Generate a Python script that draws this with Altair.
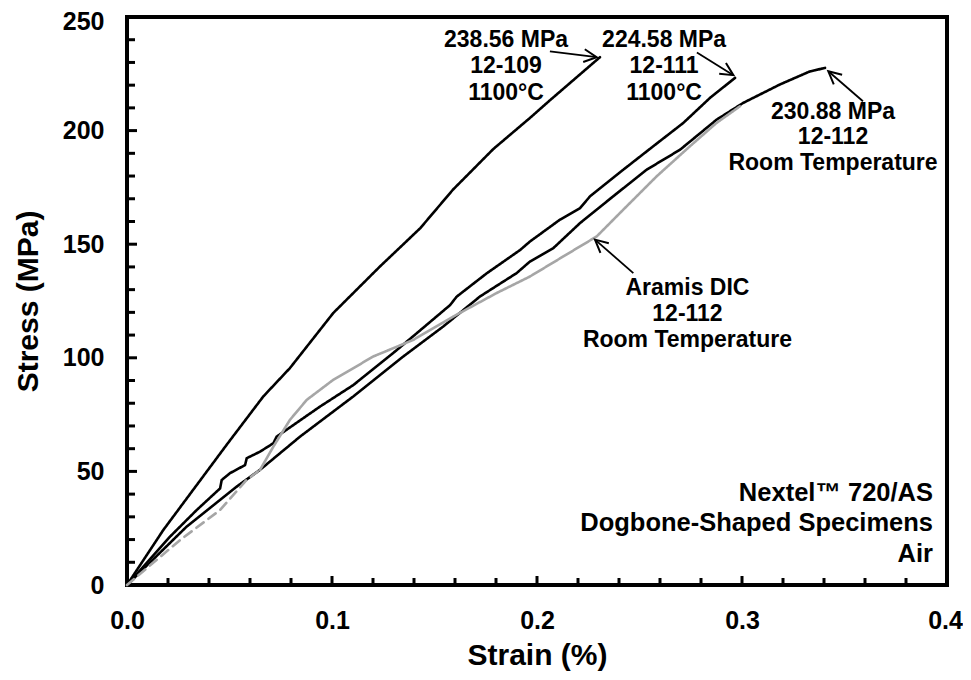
import math
import altair as alt
import pandas as pd

FONT = "Liberation Sans"

# ---- curve data (strain %, stress MPa) ----
s_109 = [0, 0.0177, 0.0486, 0.0665, 0.0795, 0.1006, 0.1234, 0.143, 0.159, 0.1787, 0.1966, 0.2060, 0.2307]
y_109 = [0, 24.2, 61.7, 83.0, 95.5, 119.7, 140.2, 157.0, 174.0, 191.9, 205.6, 213.1, 232.3]

s_111 = [0, 0.021, 0.034, 0.0454, 0.0462, 0.0502, 0.0576, 0.0584, 0.0649, 0.0714, 0.073, 0.0941, 0.1104,
         0.1316, 0.1576, 0.1608, 0.1755, 0.1917, 0.1966, 0.2112, 0.221, 0.2259, 0.2421, 0.2567, 0.2714,
         0.2844, 0.2966]
y_111 = [0, 21.3, 33.0, 42.5, 46.2, 49.2, 52.8, 55.8, 58.7, 62.4, 65.3, 78.5, 88.0,
         103.4, 123.2, 126.9, 137.2, 147.4, 151.2, 160.8, 165.9, 171.1, 182.8, 193.1, 203.4,
         214.4, 223.2]

s_112 = [0, 0.0291, 0.0535, 0.0649, 0.0844, 0.1104, 0.1348, 0.1543, 0.1722, 0.1901, 0.1966, 0.208,
         0.221, 0.2372, 0.2535, 0.2698, 0.2876, 0.3006, 0.3185, 0.333, 0.3405]
y_112 = [0, 25.7, 43.3, 50.7, 65.3, 83.0, 100.6, 113.8, 127.0, 137.3, 142.4, 148.3,
         159.3, 171.1, 182.8, 191.6, 204.8, 212.2, 220.3, 226.0, 227.6]

s_dic_dash = [0, 0.0259, 0.0454, 0.0584, 0.0649]
y_dic_dash = [0, 19.8, 33.0, 46.3, 50.7]

s_dic = [0.0649, 0.0714, 0.0795, 0.0877, 0.1006, 0.1202, 0.1397, 0.1592, 0.1803, 0.1966, 0.2128,
         0.2291, 0.2421, 0.2584, 0.2746, 0.2876, 0.299]
y_dic = [50.7, 60.9, 72.7, 81.5, 90.3, 100.6, 107.9, 118.2, 128.5, 135.8, 144.6,
         153.4, 165.2, 179.9, 193.1, 203.4, 210.7]

# ---- axis ticks ----
x_major = [0.0, 0.1, 0.2, 0.3, 0.4]
y_major = [0, 50, 100, 150, 200, 250]
x_minor = [0.02, 0.04, 0.06, 0.08, 0.12, 0.14, 0.16, 0.18, 0.22, 0.24, 0.26, 0.28, 0.32, 0.34, 0.36, 0.38]
x_inner_major = [0.1, 0.2, 0.3]
y_minor = [10, 20, 30, 40, 60, 70, 80, 90, 110, 120, 130, 140, 160, 170, 180, 190, 210, 220, 230, 240]
y_inner_major = [50, 100, 150, 200]

# ---- annotations ----
ann_s = [0.1849, 0.1849, 0.1849, 0.262, 0.262, 0.262, 0.3444, 0.3444, 0.3444, 0.2734, 0.2734, 0.2734]
ann_y = [239.9, 228.4, 216.5, 239.9, 228.4, 216.5, 208.3, 197.1, 185.6, 130.9, 119.3, 107.8]
ann_text = ["238.56 MPa", "12-109", "1100°C",
            "224.58 MPa", "12-111", "1100°C",
            "230.88 MPa", "12-112", "Room Temperature",
            "Aramis DIC", "12-112", "Room Temperature"]

note_s = [0.3932, 0.3932, 0.3932]
note_y = [40.5, 27.1, 13.8]
note_text = ["Nextel™ 720/AS", "Dogbone-Shaped Specimens", "Air"]

arrow_tail_s = [0.2063, 0.2780, 0.3590, 0.2470]
arrow_tail_y = [234.9, 234.4, 212.9, 137.3]
arrow_head_s = [0.2291, 0.2958, 0.3421, 0.2283]
arrow_head_y = [232.3, 224.4, 226.1, 152.0]

W, H = 820, 568
XMAX, YMAX = 0.4, 250

# ---- build tables ----
rows = []
for name, ss, yy in [("12-109", s_109, y_109), ("12-111", s_111, y_111), ("12-112", s_112, y_112),
                     ("DIC dash", s_dic_dash, y_dic_dash), ("DIC", s_dic, y_dic)]:
    for i, (a, b) in enumerate(zip(ss, yy)):
        rows.append({"series": name, "strain": a, "stress": b, "i": i})
curves = pd.DataFrame(rows)

arrows = pd.DataFrame({"ts": arrow_tail_s, "ty": arrow_tail_y, "hs": arrow_head_s, "hy": arrow_head_y})
arrows["angle"] = [
    (math.degrees(math.atan2(-(hy - ty) / YMAX * H, (hs - ts) / XMAX * W)) + 360) % 360
    for ts, ty, hs, hy in zip(arrow_tail_s, arrow_tail_y, arrow_head_s, arrow_head_y)
]

ann = pd.DataFrame({"strain": ann_s, "stress": ann_y, "text": ann_text})
notes = pd.DataFrame({"strain": note_s, "stress": note_y, "text": note_text})

xs = alt.Scale(domain=[0, XMAX], nice=False, zero=False)
ys = alt.Scale(domain=[0, YMAX], nice=False, zero=False)

x_axis = alt.Axis(values=x_major, format=".1f", title="Strain (%)", grid=False, domain=False,
                  ticks=False, tickSize=0, labelPadding=23, labelFontSize=25, labelFont=FONT,
                  labelFlush=False, labelFontWeight="bold", labelColor="black",
                  labelOffset={"condition": {"test": "datum.value == 0.4", "value": -2}, "value": 0},
                  titleFontSize=30, titleFont=FONT, titleFontWeight="bold", titleColor="black",
                  titleY=70, titleBaseline="middle")
y_axis = alt.Axis(values=y_major, format="d", title="Stress (MPa)", grid=False, domain=False,
                  ticks=False, tickSize=0, labelPadding=23, labelFontSize=25, labelFont=FONT,
                  labelFlush=False, labelFontWeight="bold", labelColor="black",
                  labelOffset={"condition": {"test": "datum.value == 250", "value": 4}, "value": 0},
                  titleFontSize=30, titleFont=FONT, titleFontWeight="bold", titleColor="black",
                  titleAngle=270, titleX=-99, titleY=H / 2, titleBaseline="middle",
                  titleAlign="center")

DOMAIN = ["12-109", "12-111", "12-112", "DIC dash", "DIC"]
lines = alt.Chart(curves).mark_line(strokeWidth=2.6, strokeCap="round", strokeJoin="round").encode(
    x=alt.X("strain:Q", scale=xs, axis=x_axis),
    y=alt.Y("stress:Q", scale=ys, axis=y_axis),
    color=alt.Color("series:N", legend=None,
                    scale=alt.Scale(domain=DOMAIN,
                                    range=["black", "black", "black", "#a6a6a6", "#a6a6a6"])),
    strokeDash=alt.StrokeDash("series:N", legend=None,
                              scale=alt.Scale(domain=DOMAIN,
                                              range=[[1, 0], [1, 0], [1, 0], [9, 6], [1, 0]])),
    detail="series:N",
    order="i:Q",
)


def tick_layer(vals, axis, length):
    df = pd.DataFrame({"v": vals})
    if axis == "x":
        return alt.Chart(df).mark_rule(color="black", strokeWidth=3).encode(
            x=alt.X("v:Q", scale=xs), y=alt.value(H), y2=alt.value(H - length))
    return alt.Chart(df).mark_rule(color="black", strokeWidth=3).encode(
        y=alt.Y("v:Q", scale=ys), x=alt.value(0), x2=alt.value(length))


ticks = [tick_layer(x_minor, "x", 7), tick_layer(x_inner_major, "x", 9),
         tick_layer(y_minor, "y", 8), tick_layer(y_inner_major, "y", 10)]

arrow_lines = alt.Chart(arrows).mark_rule(color="black", strokeWidth=1.8).encode(
    x=alt.X("ts:Q", scale=xs), y=alt.Y("ty:Q", scale=ys), x2="hs:Q", y2="hy:Q")
arrow_heads = alt.Chart(arrows).mark_point(
    shape="M -1 -0.5 L 0 0 L -1 0.5", filled=False, color="black", strokeWidth=2, size=650,
    opacity=1).encode(
    x=alt.X("hs:Q", scale=xs), y=alt.Y("hy:Q", scale=ys), angle=alt.Angle("angle:Q", scale=None))

ann_text_layer = alt.Chart(ann).mark_text(font=FONT, fontWeight="bold", fontSize=23, color="black",
                                          align="center", baseline="middle").encode(
    x=alt.X("strain:Q", scale=xs), y=alt.Y("stress:Q", scale=ys), text="text:N")
note_layer = alt.Chart(notes).mark_text(font=FONT, fontWeight="bold", fontSize=25.5, color="black",
                                        align="right", baseline="middle").encode(
    x=alt.X("strain:Q", scale=xs), y=alt.Y("stress:Q", scale=ys), text="text:N")

chart = alt.layer(lines, *ticks, arrow_lines, arrow_heads, ann_text_layer, note_layer).properties(
    width=W, height=H,
    padding={"left": 119, "top": 9, "right": 16, "bottom": 86},
    autosize=alt.AutoSizeParams(type="none"),
).configure_view(stroke="black", strokeWidth=4)

chart.save("out.html", embed_options={"renderer": "svg", "actions": False})
